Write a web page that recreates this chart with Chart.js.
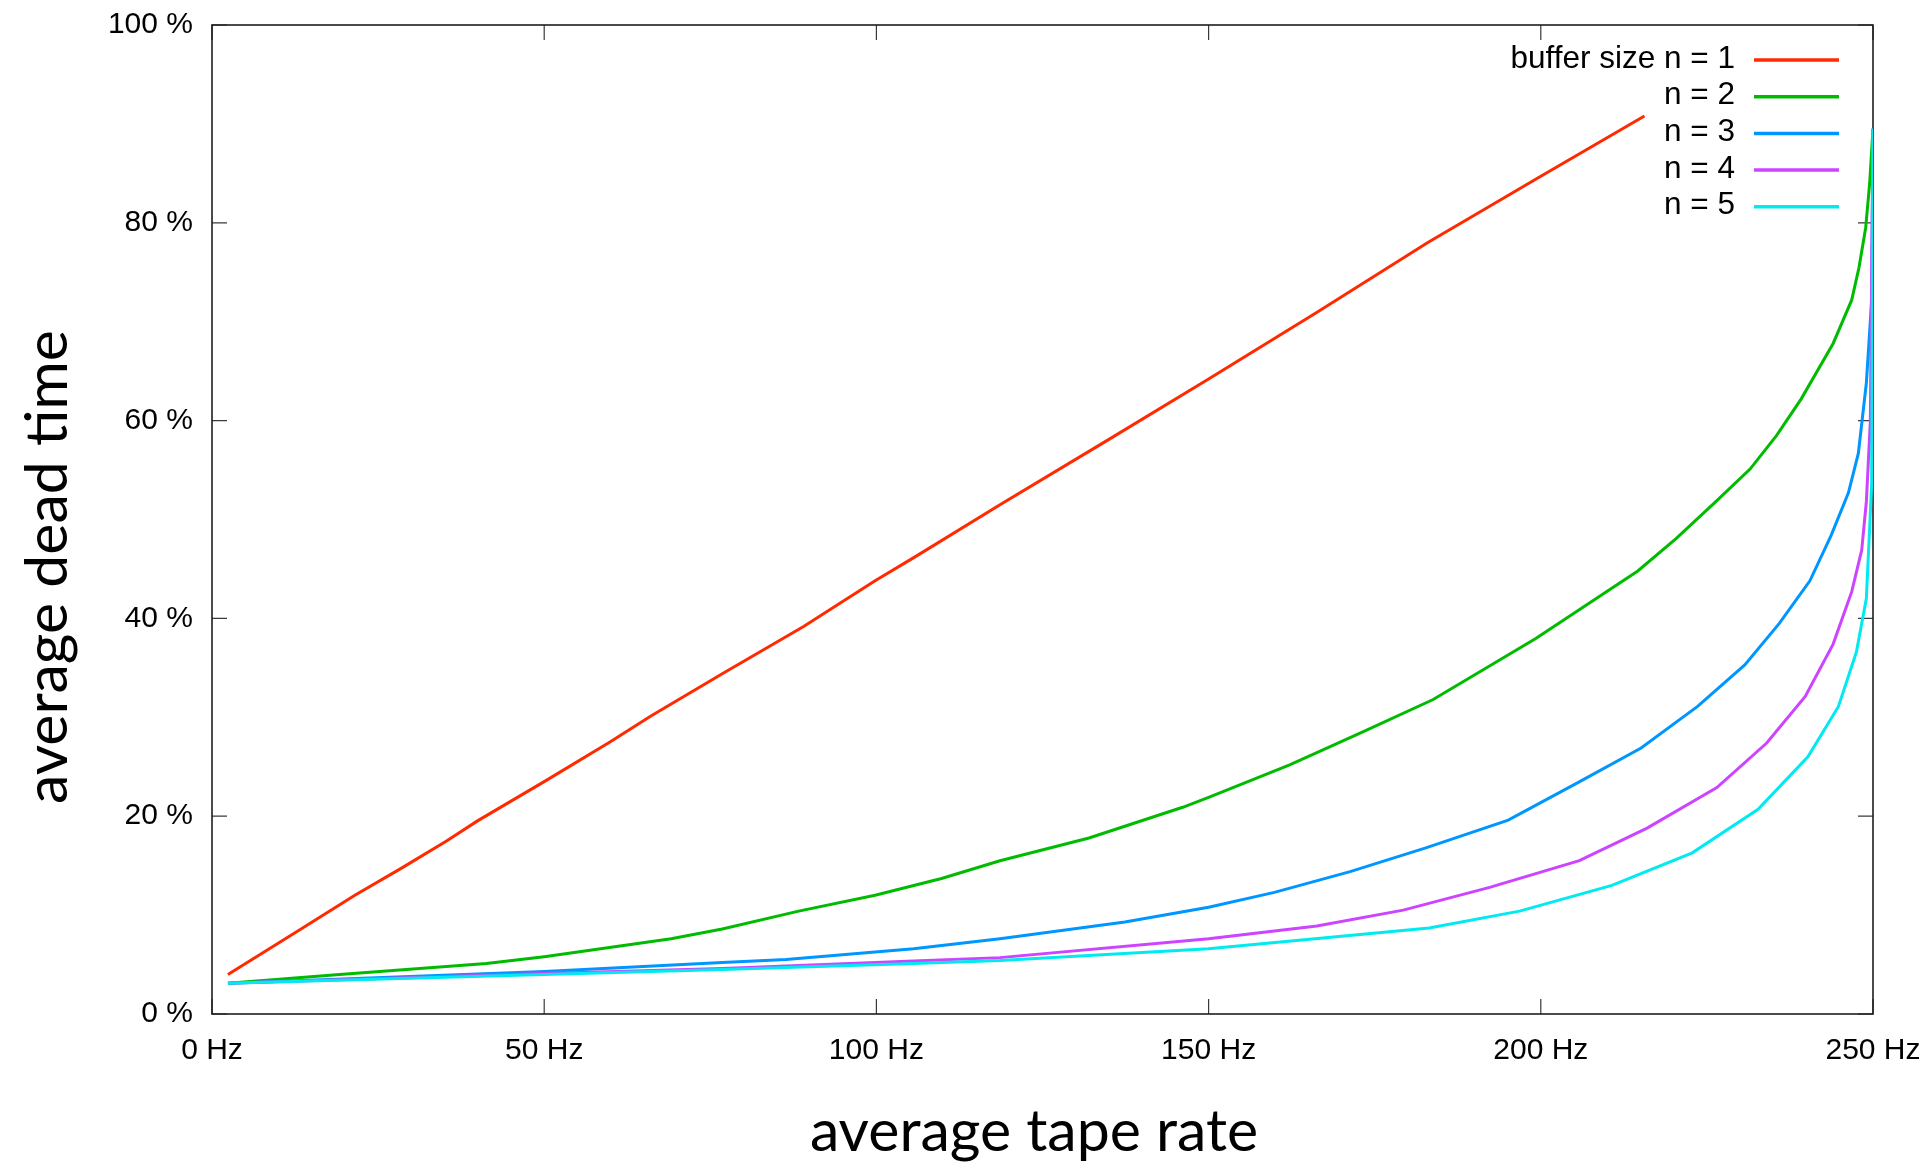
<!DOCTYPE html>
<html>
<head>
<meta charset="utf-8">
<title>Dead time vs tape rate</title>
<style>
  html, body { margin: 0; padding: 0; background: #ffffff; overflow: hidden; }
  canvas { display: block; }
</style>
<script src="https://cdn.jsdelivr.net/npm/chart.js@4.4.1/dist/chart.umd.min.js"></script>
</head>
<body>
<canvas id="chart" width="1930" height="1164"></canvas>
<script>
// ---- data -------------------------------------------------------------
const seriesLabels = ['buffer size n = 1', 'n = 2', 'n = 3', 'n = 4', 'n = 5'];
const seriesColors = ['#ff2a00', '#00bb00', '#0096ff', '#cc44ff', '#00eaf0'];

// average tape rate (Hz) and average dead time (%) per buffer size
const rateN1 = [2.4, 13.4, 21.5, 28.4, 35.3, 39.9, 50.0, 59.9, 66.0, 76.8, 89.1, 99.8, 106.0, 118.6, 135.0, 150.0, 166.2, 183.0, 200.0, 215.6];
const deadN1 = [4.0, 8.6, 12.0, 14.7, 17.5, 19.5, 23.5, 27.5, 30.1, 34.4, 39.2, 43.8, 46.3, 51.5, 58.1, 64.2, 70.9, 78.0, 84.7, 90.8];

const rateN2 = [2.4, 19.2, 41.3, 50.0, 69.1, 76.8, 88.3, 99.8, 109.8, 118.6, 132.0, 146.1, 150.0, 162.2, 172.8, 183.8, 193.8, 199.3, 214.6, 220.4, 226.5, 231.5, 235.5, 239.2, 244.0, 246.8, 247.9, 248.9, 249.5, 250.0];
const deadN2 = [3.1, 4.0, 5.1, 5.8, 7.6, 8.6, 10.4, 12.0, 13.7, 15.5, 17.8, 20.9, 21.9, 25.2, 28.4, 31.8, 35.8, 38.0, 44.8, 48.1, 51.9, 55.1, 58.5, 62.2, 67.8, 72.2, 75.5, 79.5, 84.0, 89.5];

const rateN3 = [2.4, 50.0, 76.8, 86.4, 105.6, 118.6, 137.4, 150.0, 159.9, 171.3, 182.7, 195.1, 205.3, 215.1, 223.6, 230.7, 235.9, 240.5, 243.7, 246.3, 247.8, 249.0, 249.8, 250.0];
const deadN3 = [3.1, 4.3, 5.2, 5.5, 6.6, 7.6, 9.3, 10.8, 12.3, 14.4, 16.8, 19.6, 23.3, 26.9, 31.1, 35.3, 39.5, 43.8, 48.4, 52.7, 56.7, 63.8, 72.2, 89.5];

const rateN4 = [2.4, 50.0, 76.8, 105.6, 118.6, 150.0, 166.3, 179.3, 192.3, 205.8, 216.0, 226.5, 234.0, 239.8, 244.0, 246.8, 248.3, 249.0, 249.6, 250.0];
const deadN4 = [3.1, 4.1, 4.6, 5.35, 5.7, 7.6, 8.9, 10.5, 12.8, 15.5, 18.8, 22.9, 27.4, 32.1, 37.4, 42.7, 46.9, 51.8, 59.9, 89.5];

const rateN5 = [2.4, 50.0, 76.8, 105.6, 118.6, 150.0, 183.2, 196.8, 210.7, 222.8, 232.7, 240.2, 244.8, 247.5, 249.0, 249.8, 250.0];
const deadN5 = [3.1, 4.0, 4.5, 5.1, 5.4, 6.6, 8.7, 10.4, 13.0, 16.3, 20.7, 26.0, 31.1, 36.6, 42.0, 53.6, 89.5];

const xTickValues = [0, 50, 100, 150, 200, 250];
const yTickValues = [0, 20, 40, 60, 80, 100];
const xTitle = 'average tape rate';
const yTitle = 'average dead time';

// ---- build datasets ---------------------------------------------------
const rates = [rateN1, rateN2, rateN3, rateN4, rateN5];
const deads = [deadN1, deadN2, deadN3, deadN4, deadN5];
const datasets = seriesLabels.map((label, i) => ({
  label,
  data: rates[i].map((r, k) => ({ x: r, y: deads[i][k] })),
  borderColor: seriesColors[i],
  backgroundColor: seriesColors[i],
  borderWidth: 3,
  pointRadius: 0,
  tension: 0,
  fill: false,
  order: seriesLabels.length - 1 - i   // later buffer sizes drawn on top
}));

const TICK_FONT = { family: '"Liberation Sans", Arial, Helvetica, sans-serif', size: 30 };

// frame with inward, mirrored tick marks; key and axis titles
const framePlugin = {
  id: 'frame',
  beforeDatasetsDraw(chart) {
    const { ctx, chartArea: a, scales: { x, y } } = chart;
    const len = 15;
    ctx.save();
    ctx.strokeStyle = '#3a3a3a';
    ctx.lineWidth = 1.2;
    ctx.beginPath();
    xTickValues.forEach(v => {
      const px = x.getPixelForValue(v);
      ctx.moveTo(px, a.bottom); ctx.lineTo(px, a.bottom - len);
      ctx.moveTo(px, a.top);    ctx.lineTo(px, a.top + len);
    });
    yTickValues.forEach(v => {
      const py = y.getPixelForValue(v);
      ctx.moveTo(a.left, py);  ctx.lineTo(a.left + len, py);
      ctx.moveTo(a.right, py); ctx.lineTo(a.right - len, py);
    });
    ctx.stroke();
    ctx.strokeStyle = '#1e1e1e';
    ctx.lineWidth = 1.6;
    ctx.strokeRect(a.left, a.top, a.right - a.left, a.bottom - a.top);
    ctx.restore();
  },
  afterDraw(chart) {
    const { ctx, chartArea: a } = chart;
    ctx.save();
    // key, top right inside the frame
    ctx.font = '31.5px "Liberation Sans", Arial, Helvetica, sans-serif';
    ctx.textAlign = 'right';
    ctx.textBaseline = 'middle';
    const textRight = a.right - 138;
    const lineStart = a.right - 119;
    const lineEnd = a.right - 34;
    const row0 = a.top + 35;
    const rowStep = 36.7;
    chart.data.datasets.forEach((ds, i) => {
      const yy = row0 + i * rowStep;
      ctx.fillStyle = '#000';
      ctx.fillText(ds.label, textRight, yy - 1);
      ctx.strokeStyle = ds.borderColor;
      ctx.lineWidth = 3.5;
      ctx.beginPath();
      ctx.moveTo(lineStart, yy);
      ctx.lineTo(lineEnd, yy);
      ctx.stroke();
    });
    // axis titles
    ctx.fillStyle = '#000';
    ctx.font = '59px Lato, "Open Sans", sans-serif';
    ctx.textAlign = 'center';
    ctx.textBaseline = 'alphabetic';
    ctx.fillText(xTitle, 1034, 1151);
    ctx.translate(67, 567);
    ctx.rotate(-Math.PI / 2);
    ctx.fillText(yTitle, 0, 0);
    ctx.restore();
  }
};

new Chart(document.getElementById('chart'), {
  type: 'line',
  data: { datasets },
  options: {
    responsive: false,
    animation: false,
    devicePixelRatio: 1,
    layout: { padding: { top: 25, right: 57, bottom: 0, left: 0 } },
    plugins: { legend: { display: false }, tooltip: { enabled: false } },
    scales: {
      x: {
        type: 'linear',
        position: 'bottom',
        min: 0, max: 250,
        grid: { display: false, drawTicks: false },
        border: { display: false },
        ticks: {
          stepSize: 50,
          autoSkip: false,
          maxRotation: 0,
          padding: 19,
          color: '#000',
          font: TICK_FONT,
          callback: v => v + ' Hz'
        },
        afterFit(s) { s.height = 150; s.paddingLeft = 0; s.paddingRight = 0; }
      },
      y: {
        type: 'linear',
        position: 'left',
        min: 0, max: 100,
        grid: { display: false, drawTicks: false },
        border: { display: false },
        ticks: {
          stepSize: 20,
          padding: 19,
          color: '#000',
          font: TICK_FONT,
          callback: v => v + ' %'
        },
        afterFit(s) { s.width = 212; s.paddingTop = 0; s.paddingBottom = 0; }
      }
    }
  },
  plugins: [framePlugin]
});
</script>
</body>
</html>
